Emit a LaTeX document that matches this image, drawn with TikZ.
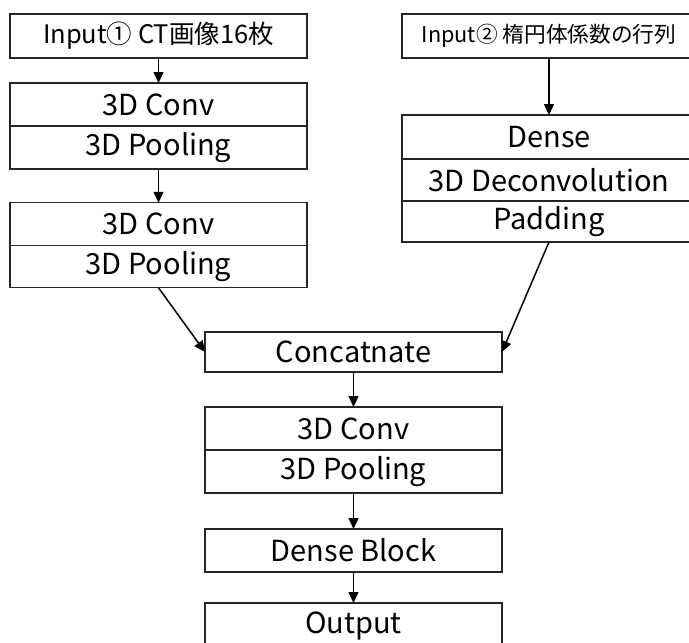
\documentclass[tikz,border=0pt]{standalone}
\usepackage{fontspec}
\setmainfont{Noto Sans CJK JP}
\usetikzlibrary{arrows.meta}
\begin{document}
\begin{tikzpicture}[x=1pt,y=-1pt,
  box/.style={draw=black!85, line width=1.3pt, inner sep=0pt, outer sep=0pt, minimum width=297pt, font=\fontsize{29}{32}\selectfont},
  conn/.style={line width=1.5pt, -{Triangle[width=10pt,length=11pt]}}]
\useasboundingbox (0,0) rectangle (689,643);
\clip (0,0) rectangle (689,643);
% left column
\node[box, minimum height=44pt, font=\fontsize{25.5}{28}\selectfont] (in1) at (158.5,36) {Input① CT画像16枚};
\node[box, minimum height=43pt] (c1) at (158.5,104.5) {3D Conv};
\node[box, minimum height=43pt] (p1) at (158.5,147.5) {3D Pooling};
\node[box, minimum height=42.5pt] (c2) at (158.5,224) {3D Conv};
\node[box, minimum height=42.5pt] (p2) at (158.5,266.5) {3D Pooling};
% right column
\node[box, minimum width=294pt, minimum height=44pt, font=\fontsize{21.7}{24}\selectfont] (in2) at (549,36) {Input② 楕円体係数の行列};
\node[box, minimum width=294pt, minimum height=44pt] (d1) at (549,137) {Dense};
\node[box, minimum width=294pt, minimum height=42pt] (d2) at (549,180) {3D Deconvolution};
\node[box, minimum width=294pt, minimum height=41pt] (d3) at (549,221.5) {Padding};
% center column
\node[box, minimum height=40pt] (cat) at (353.5,352) {Concatnate};
\node[box, minimum height=43pt] (c3) at (353.5,428.5) {3D Conv};
\node[box, minimum height=43pt] (p3) at (353.5,471.5) {3D Pooling};
\node[box, minimum height=43pt] (db) at (353.5,550.5) {Dense Block};
\node[box, minimum height=45pt] (out) at (353.5,625.5) {Output};
% connectors
\draw[conn] (in1.south) -- (c1.north);
\draw[conn] (p1.south) -- (c2.north);
\draw[conn] (in2.south) -- (d1.north);
\draw[conn] (p2.south) -- (cat.west);
\draw[conn] (d3.south) -- (cat.east);
\draw[conn] (cat.south) -- (c3.north);
\draw[conn] (p3.south) -- (db.north);
\draw[conn] (db.south) -- (out.north);
\end{tikzpicture}
\end{document}
